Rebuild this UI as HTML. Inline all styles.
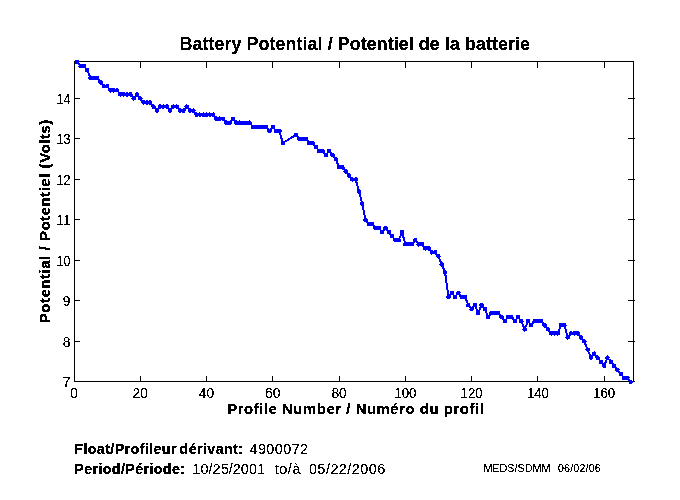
<!DOCTYPE html>
<html><head><meta charset="utf-8"><title>Battery Potential</title>
<style>
html,body{margin:0;padding:0;background:#fff;}
body{width:680px;height:500px;overflow:hidden;position:relative;font-family:"Liberation Sans",sans-serif;}
svg{position:absolute;left:0;top:0;}
text{font-family:"Liberation Sans",sans-serif;fill:#000;}
.tk{font-size:13.8px;}
.ttl{font-size:17.8px;font-weight:bold;}
.lab{font-size:14.9px;font-weight:bold;}
.b{font-size:14.3px;font-weight:bold;}
.r{font-size:14.4px;}
.s{font-size:10.67px;}
</style></head><body>
<svg width="680" height="500" viewBox="0 0 680 500">
<defs><filter id="th" x="0" y="0" width="680" height="500" filterUnits="userSpaceOnUse" color-interpolation-filters="sRGB"><feComponentTransfer><feFuncA type="discrete" tableValues="0 0 1 1 1"/></feComponentTransfer></filter><filter id="tb" x="0" y="0" width="680" height="500" filterUnits="userSpaceOnUse" color-interpolation-filters="sRGB"><feComponentTransfer><feFuncA type="discrete" tableValues="0 1 1"/></feComponentTransfer></filter></defs>
<g shape-rendering="crispEdges">
<rect x="74" y="61" width="560" height="1" fill="#000"/><rect x="74" y="381" width="561" height="1" fill="#000"/><rect x="74" y="61" width="1" height="321" fill="#000"/><rect x="633" y="61" width="1" height="321" fill="#000"/><rect x="140" y="376" width="1" height="5" fill="#000"/><rect x="140" y="62" width="1" height="6" fill="#000"/><rect x="206" y="376" width="1" height="5" fill="#000"/><rect x="206" y="62" width="1" height="6" fill="#000"/><rect x="272" y="376" width="1" height="5" fill="#000"/><rect x="272" y="62" width="1" height="6" fill="#000"/><rect x="339" y="376" width="1" height="5" fill="#000"/><rect x="339" y="62" width="1" height="6" fill="#000"/><rect x="405" y="376" width="1" height="5" fill="#000"/><rect x="405" y="62" width="1" height="6" fill="#000"/><rect x="471" y="376" width="1" height="5" fill="#000"/><rect x="471" y="62" width="1" height="6" fill="#000"/><rect x="537" y="376" width="1" height="5" fill="#000"/><rect x="537" y="62" width="1" height="6" fill="#000"/><rect x="604" y="376" width="1" height="5" fill="#000"/><rect x="604" y="62" width="1" height="6" fill="#000"/><rect x="75" y="341" width="5" height="1" fill="#000"/><rect x="628" y="341" width="7" height="1" fill="#000"/><rect x="75" y="300" width="5" height="1" fill="#000"/><rect x="628" y="300" width="7" height="1" fill="#000"/><rect x="75" y="260" width="5" height="1" fill="#000"/><rect x="628" y="260" width="7" height="1" fill="#000"/><rect x="75" y="219" width="5" height="1" fill="#000"/><rect x="628" y="219" width="7" height="1" fill="#000"/><rect x="75" y="179" width="5" height="1" fill="#000"/><rect x="628" y="179" width="7" height="1" fill="#000"/><rect x="75" y="138" width="5" height="1" fill="#000"/><rect x="628" y="138" width="7" height="1" fill="#000"/><rect x="75" y="98" width="5" height="1" fill="#000"/><rect x="628" y="98" width="7" height="1" fill="#000"/>
</g>
<g shape-rendering="crispEdges" fill="#0000ff">
<polyline points="77.31,62.00 80.63,66.05 83.94,66.05 87.25,70.10 90.57,78.20 93.88,78.20 97.20,78.20 100.51,82.25 103.82,86.30 107.14,86.30 110.45,90.35 113.76,90.35 117.08,90.35 120.39,94.40 123.70,94.40 127.02,94.40 130.33,94.40 133.64,98.45 136.96,94.40 140.27,98.45 143.59,102.50 146.90,102.50 150.21,102.50 153.53,106.55 156.84,110.60 160.15,106.55 163.47,106.55 166.78,106.55 170.09,110.60 173.41,106.55 176.72,106.55 180.04,110.60 183.35,110.60 186.66,106.55 189.98,110.60 193.29,110.60 196.60,114.65 199.92,114.65 203.23,114.65 206.54,114.65 209.86,114.65 213.17,114.65 216.48,118.70 219.80,118.70 223.11,118.70 226.43,122.75 229.74,122.75 233.05,118.70 236.37,122.75 239.68,122.75 242.99,122.75 246.31,122.75 249.62,122.75 252.93,126.80 256.25,126.80 259.56,126.80 262.88,126.80 266.19,126.80 269.50,130.85 272.82,126.80 276.13,130.85 279.44,130.85 282.76,143.00 296.01,134.90 299.32,138.95 302.64,138.95 305.95,138.95 309.27,143.00 312.58,143.00 315.89,147.05 319.21,151.10 322.52,151.10 325.83,155.15 329.15,151.10 332.46,155.15 335.77,159.20 339.09,167.30 342.40,167.30 345.72,171.35 349.03,175.40 352.34,179.45 355.66,179.45 358.97,191.60 362.28,203.75 365.60,219.95 368.91,224.00 372.22,224.00 375.54,228.05 378.85,228.05 382.16,232.10 385.48,228.05 388.79,232.10 392.11,236.15 395.42,240.20 398.73,240.20 402.05,232.10 405.36,244.25 408.67,244.25 411.99,244.25 415.30,240.20 418.61,244.25 421.93,244.25 425.24,248.30 428.56,248.30 431.87,252.35 435.18,252.35 438.50,256.40 441.81,264.50 445.12,272.60 448.44,296.90 451.75,292.85 455.06,296.90 458.38,292.85 461.69,296.90 465.00,296.90 468.32,305.00 471.63,309.05 474.95,305.00 478.26,313.10 481.57,305.00 484.89,309.05 488.20,317.15 491.51,313.10 494.83,313.10 498.14,313.10 501.45,317.15 504.77,321.20 508.08,317.15 511.40,317.15 514.71,321.20 518.02,317.15 521.34,321.20 524.65,329.30 527.96,321.20 531.28,325.25 534.59,321.20 537.90,321.20 541.22,321.20 544.53,325.25 547.84,329.30 551.16,333.35 554.47,333.35 557.79,333.35 561.10,325.25 564.41,325.25 567.73,337.40 571.04,333.35 574.35,333.35 577.67,333.35 580.98,337.40 584.29,341.45 587.61,349.55 590.92,357.65 594.24,353.60 597.55,357.65 600.86,361.70 604.18,365.75 607.49,357.65 610.80,361.70 614.12,365.75 617.43,369.80 620.74,373.85 624.06,377.90 627.37,377.90 630.68,381.95" fill="none" stroke="#0000ff" stroke-width="2" stroke-linejoin="miter"/>
<circle cx="77.31" cy="62.00" r="2.3"/><circle cx="80.63" cy="66.05" r="2.3"/><circle cx="83.94" cy="66.05" r="2.3"/><circle cx="87.25" cy="70.10" r="2.3"/><circle cx="90.57" cy="78.20" r="2.3"/><circle cx="93.88" cy="78.20" r="2.3"/><circle cx="97.20" cy="78.20" r="2.3"/><circle cx="100.51" cy="82.25" r="2.3"/><circle cx="103.82" cy="86.30" r="2.3"/><circle cx="107.14" cy="86.30" r="2.3"/><circle cx="110.45" cy="90.35" r="2.3"/><circle cx="113.76" cy="90.35" r="2.3"/><circle cx="117.08" cy="90.35" r="2.3"/><circle cx="120.39" cy="94.40" r="2.3"/><circle cx="123.70" cy="94.40" r="2.3"/><circle cx="127.02" cy="94.40" r="2.3"/><circle cx="130.33" cy="94.40" r="2.3"/><circle cx="133.64" cy="98.45" r="2.3"/><circle cx="136.96" cy="94.40" r="2.3"/><circle cx="140.27" cy="98.45" r="2.3"/><circle cx="143.59" cy="102.50" r="2.3"/><circle cx="146.90" cy="102.50" r="2.3"/><circle cx="150.21" cy="102.50" r="2.3"/><circle cx="153.53" cy="106.55" r="2.3"/><circle cx="156.84" cy="110.60" r="2.3"/><circle cx="160.15" cy="106.55" r="2.3"/><circle cx="163.47" cy="106.55" r="2.3"/><circle cx="166.78" cy="106.55" r="2.3"/><circle cx="170.09" cy="110.60" r="2.3"/><circle cx="173.41" cy="106.55" r="2.3"/><circle cx="176.72" cy="106.55" r="2.3"/><circle cx="180.04" cy="110.60" r="2.3"/><circle cx="183.35" cy="110.60" r="2.3"/><circle cx="186.66" cy="106.55" r="2.3"/><circle cx="189.98" cy="110.60" r="2.3"/><circle cx="193.29" cy="110.60" r="2.3"/><circle cx="196.60" cy="114.65" r="2.3"/><circle cx="199.92" cy="114.65" r="2.3"/><circle cx="203.23" cy="114.65" r="2.3"/><circle cx="206.54" cy="114.65" r="2.3"/><circle cx="209.86" cy="114.65" r="2.3"/><circle cx="213.17" cy="114.65" r="2.3"/><circle cx="216.48" cy="118.70" r="2.3"/><circle cx="219.80" cy="118.70" r="2.3"/><circle cx="223.11" cy="118.70" r="2.3"/><circle cx="226.43" cy="122.75" r="2.3"/><circle cx="229.74" cy="122.75" r="2.3"/><circle cx="233.05" cy="118.70" r="2.3"/><circle cx="236.37" cy="122.75" r="2.3"/><circle cx="239.68" cy="122.75" r="2.3"/><circle cx="242.99" cy="122.75" r="2.3"/><circle cx="246.31" cy="122.75" r="2.3"/><circle cx="249.62" cy="122.75" r="2.3"/><circle cx="252.93" cy="126.80" r="2.3"/><circle cx="256.25" cy="126.80" r="2.3"/><circle cx="259.56" cy="126.80" r="2.3"/><circle cx="262.88" cy="126.80" r="2.3"/><circle cx="266.19" cy="126.80" r="2.3"/><circle cx="269.50" cy="130.85" r="2.3"/><circle cx="272.82" cy="126.80" r="2.3"/><circle cx="276.13" cy="130.85" r="2.3"/><circle cx="279.44" cy="130.85" r="2.3"/><circle cx="282.76" cy="143.00" r="2.3"/><circle cx="296.01" cy="134.90" r="2.3"/><circle cx="299.32" cy="138.95" r="2.3"/><circle cx="302.64" cy="138.95" r="2.3"/><circle cx="305.95" cy="138.95" r="2.3"/><circle cx="309.27" cy="143.00" r="2.3"/><circle cx="312.58" cy="143.00" r="2.3"/><circle cx="315.89" cy="147.05" r="2.3"/><circle cx="319.21" cy="151.10" r="2.3"/><circle cx="322.52" cy="151.10" r="2.3"/><circle cx="325.83" cy="155.15" r="2.3"/><circle cx="329.15" cy="151.10" r="2.3"/><circle cx="332.46" cy="155.15" r="2.3"/><circle cx="335.77" cy="159.20" r="2.3"/><circle cx="339.09" cy="167.30" r="2.3"/><circle cx="342.40" cy="167.30" r="2.3"/><circle cx="345.72" cy="171.35" r="2.3"/><circle cx="349.03" cy="175.40" r="2.3"/><circle cx="352.34" cy="179.45" r="2.3"/><circle cx="355.66" cy="179.45" r="2.3"/><circle cx="358.97" cy="191.60" r="2.3"/><circle cx="362.28" cy="203.75" r="2.3"/><circle cx="365.60" cy="219.95" r="2.3"/><circle cx="368.91" cy="224.00" r="2.3"/><circle cx="372.22" cy="224.00" r="2.3"/><circle cx="375.54" cy="228.05" r="2.3"/><circle cx="378.85" cy="228.05" r="2.3"/><circle cx="382.16" cy="232.10" r="2.3"/><circle cx="385.48" cy="228.05" r="2.3"/><circle cx="388.79" cy="232.10" r="2.3"/><circle cx="392.11" cy="236.15" r="2.3"/><circle cx="395.42" cy="240.20" r="2.3"/><circle cx="398.73" cy="240.20" r="2.3"/><circle cx="402.05" cy="232.10" r="2.3"/><circle cx="405.36" cy="244.25" r="2.3"/><circle cx="408.67" cy="244.25" r="2.3"/><circle cx="411.99" cy="244.25" r="2.3"/><circle cx="415.30" cy="240.20" r="2.3"/><circle cx="418.61" cy="244.25" r="2.3"/><circle cx="421.93" cy="244.25" r="2.3"/><circle cx="425.24" cy="248.30" r="2.3"/><circle cx="428.56" cy="248.30" r="2.3"/><circle cx="431.87" cy="252.35" r="2.3"/><circle cx="435.18" cy="252.35" r="2.3"/><circle cx="438.50" cy="256.40" r="2.3"/><circle cx="441.81" cy="264.50" r="2.3"/><circle cx="445.12" cy="272.60" r="2.3"/><circle cx="448.44" cy="296.90" r="2.3"/><circle cx="451.75" cy="292.85" r="2.3"/><circle cx="455.06" cy="296.90" r="2.3"/><circle cx="458.38" cy="292.85" r="2.3"/><circle cx="461.69" cy="296.90" r="2.3"/><circle cx="465.00" cy="296.90" r="2.3"/><circle cx="468.32" cy="305.00" r="2.3"/><circle cx="471.63" cy="309.05" r="2.3"/><circle cx="474.95" cy="305.00" r="2.3"/><circle cx="478.26" cy="313.10" r="2.3"/><circle cx="481.57" cy="305.00" r="2.3"/><circle cx="484.89" cy="309.05" r="2.3"/><circle cx="488.20" cy="317.15" r="2.3"/><circle cx="491.51" cy="313.10" r="2.3"/><circle cx="494.83" cy="313.10" r="2.3"/><circle cx="498.14" cy="313.10" r="2.3"/><circle cx="501.45" cy="317.15" r="2.3"/><circle cx="504.77" cy="321.20" r="2.3"/><circle cx="508.08" cy="317.15" r="2.3"/><circle cx="511.40" cy="317.15" r="2.3"/><circle cx="514.71" cy="321.20" r="2.3"/><circle cx="518.02" cy="317.15" r="2.3"/><circle cx="521.34" cy="321.20" r="2.3"/><circle cx="524.65" cy="329.30" r="2.3"/><circle cx="527.96" cy="321.20" r="2.3"/><circle cx="531.28" cy="325.25" r="2.3"/><circle cx="534.59" cy="321.20" r="2.3"/><circle cx="537.90" cy="321.20" r="2.3"/><circle cx="541.22" cy="321.20" r="2.3"/><circle cx="544.53" cy="325.25" r="2.3"/><circle cx="547.84" cy="329.30" r="2.3"/><circle cx="551.16" cy="333.35" r="2.3"/><circle cx="554.47" cy="333.35" r="2.3"/><circle cx="557.79" cy="333.35" r="2.3"/><circle cx="561.10" cy="325.25" r="2.3"/><circle cx="564.41" cy="325.25" r="2.3"/><circle cx="567.73" cy="337.40" r="2.3"/><circle cx="571.04" cy="333.35" r="2.3"/><circle cx="574.35" cy="333.35" r="2.3"/><circle cx="577.67" cy="333.35" r="2.3"/><circle cx="580.98" cy="337.40" r="2.3"/><circle cx="584.29" cy="341.45" r="2.3"/><circle cx="587.61" cy="349.55" r="2.3"/><circle cx="590.92" cy="357.65" r="2.3"/><circle cx="594.24" cy="353.60" r="2.3"/><circle cx="597.55" cy="357.65" r="2.3"/><circle cx="600.86" cy="361.70" r="2.3"/><circle cx="604.18" cy="365.75" r="2.3"/><circle cx="607.49" cy="357.65" r="2.3"/><circle cx="610.80" cy="361.70" r="2.3"/><circle cx="614.12" cy="365.75" r="2.3"/><circle cx="617.43" cy="369.80" r="2.3"/><circle cx="620.74" cy="373.85" r="2.3"/><circle cx="624.06" cy="377.90" r="2.3"/><circle cx="627.37" cy="377.90" r="2.3"/><circle cx="630.68" cy="381.95" r="2.3"/>
</g>
<g filter="url(#th)">
<text x="74.0" y="398" text-anchor="middle" class="tk">0</text><text x="140.3" y="398" text-anchor="middle" class="tk">20</text><text x="206.5" y="398" text-anchor="middle" class="tk">40</text><text x="272.8" y="398" text-anchor="middle" class="tk">60</text><text x="339.1" y="398" text-anchor="middle" class="tk">80</text><text x="405.4" y="398" text-anchor="middle" textLength="22.0" lengthAdjust="spacingAndGlyphs" class="tk">100</text><text x="471.6" y="398" text-anchor="middle" textLength="22.0" lengthAdjust="spacingAndGlyphs" class="tk">120</text><text x="537.9" y="398" text-anchor="middle" textLength="22.0" lengthAdjust="spacingAndGlyphs" class="tk">140</text><text x="604.2" y="398" text-anchor="middle" textLength="22.0" lengthAdjust="spacingAndGlyphs" class="tk">160</text><text x="70.5" y="387.1" text-anchor="end" class="tk">7</text><text x="70.5" y="346.6" text-anchor="end" class="tk">8</text><text x="70.5" y="306.1" text-anchor="end" class="tk">9</text><text x="70.5" y="265.6" text-anchor="end" textLength="14.0" lengthAdjust="spacingAndGlyphs" class="tk">10</text><text x="70.5" y="225.1" text-anchor="end" textLength="14.0" lengthAdjust="spacingAndGlyphs" class="tk">11</text><text x="70.5" y="184.6" text-anchor="end" textLength="14.0" lengthAdjust="spacingAndGlyphs" class="tk">12</text><text x="70.5" y="144.1" text-anchor="end" textLength="14.0" lengthAdjust="spacingAndGlyphs" class="tk">13</text><text x="70.5" y="103.6" text-anchor="end" textLength="14.0" lengthAdjust="spacingAndGlyphs" class="tk">14</text>
<text id="f2" x="249.5" y="454" textLength="58.6" lengthAdjust="spacing" class="r">4900072</text>
<text id="p2" x="192.4" y="474" textLength="72.6" lengthAdjust="spacing" class="r">10/25/2001</text>
<text id="p3" x="274.8" y="474" textLength="25.6" lengthAdjust="spacing" class="r">to/à</text>
<text id="p4" x="309.0" y="474" textLength="76.2" lengthAdjust="spacing" class="r">05/22/2006</text>
<text id="m1" x="483.4" y="472" textLength="67" lengthAdjust="spacing" class="s">MEDS/SDMM</text>
<text id="m2" x="558" y="472" textLength="42.7" lengthAdjust="spacing" class="s">06/02/06</text>
</g>
<g filter="url(#tb)">
<text id="title" x="179.6" y="49.5" textLength="350.3" lengthAdjust="spacing" class="ttl">Battery Potential / Potentiel de la batterie</text>
<text id="xlab" x="227.2" y="414" textLength="256.6" lengthAdjust="spacing" class="lab">Profile Number / Numéro du profil</text>
<text id="ylab" transform="translate(50,323.3) rotate(-90)" textLength="203.5" lengthAdjust="spacing" class="lab">Potential / Potentiel (Volts)</text>
<text id="f1" x="74.3" y="454" textLength="102.2" lengthAdjust="spacing" class="b">Float/Profileur</text>
<text id="f1b" x="179.6" y="454" textLength="63.4" lengthAdjust="spacing" class="b">dérivant:</text>
<text id="p1" x="74.3" y="474" textLength="110.7" lengthAdjust="spacing" class="b">Period/Période:</text>
</g>
</svg>
</body></html>
